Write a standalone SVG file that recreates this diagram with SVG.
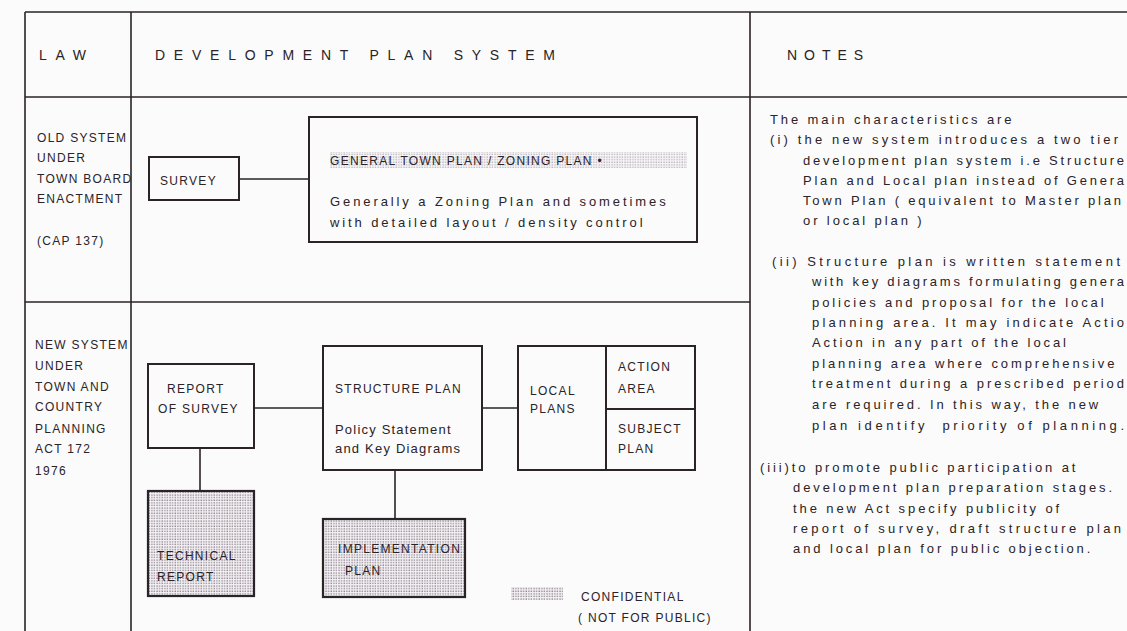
<svg xmlns="http://www.w3.org/2000/svg" width="1127" height="631" viewBox="0 0 1127 631">
<style>
.bg{fill:#fbfbfb}
.grid{stroke:#2a2328;stroke-width:1.6;fill:none}
.box{stroke:#2a2328;stroke-width:2;fill:none}
.dbox{stroke:#2a2328;stroke-width:2.2;fill:url(#dots)}
.con{stroke:#2a2328;stroke-width:1.6;fill:none}
text{font-family:"Liberation Sans",Arial,sans-serif;fill:#2a2328}
.hd{font-size:14px}
.lb{font-size:12px;letter-spacing:1.3px}
.tx{font-size:13px;letter-spacing:2.9px}
.fx{font-size:13px;letter-spacing:0}
.bx{font-size:13px;letter-spacing:1.2px}
</style>
<defs>
<pattern id="dots" width="2.6" height="2.6" patternUnits="userSpaceOnUse">
<rect width="2.6" height="2.6" fill="#f4f2f4"/>
<rect x="0.4" y="0.4" width="1.3" height="1.3" fill="#8a7e8c"/>
</pattern>
</defs>
<rect class="bg" x="0" y="0" width="1127" height="631"/>
<g id="table">
<line class="grid" x1="25" y1="12" x2="1127" y2="12"/>
<line class="grid" x1="25" y1="97" x2="1127" y2="97"/>
<line class="grid" x1="25" y1="302" x2="750" y2="302"/>
<line class="grid" x1="25" y1="12" x2="25" y2="631"/>
<line class="grid" x1="131" y1="12" x2="131" y2="631"/>
<line class="grid" x1="750" y1="12" x2="750" y2="631"/>
<text class="hd" x="39" y="60" textLength="47" lengthAdjust="spacing">LAW</text>
<text class="hd" x="155" y="60" textLength="400" lengthAdjust="spacing">DEVELOPMENT PLAN SYSTEM</text>
<text class="hd" x="787" y="60" textLength="76" lengthAdjust="spacing">NOTES</text>
</g>
<g id="law-old">
<text class="lb" x="37" y="142">OLD SYSTEM</text>
<text class="lb" x="37" y="162">UNDER</text>
<text class="lb" x="37" y="183">TOWN BOARD</text>
<text class="lb" x="37" y="203">ENACTMENT</text>
<text class="lb" x="37" y="245">(CAP 137)</text>
</g>
<g id="law-new">
<text class="lb" x="35" y="349">NEW SYSTEM</text>
<text class="lb" x="35" y="370">UNDER</text>
<text class="lb" x="35" y="391">TOWN AND</text>
<text class="lb" x="35" y="411">COUNTRY</text>
<text class="lb" x="35" y="433">PLANNING</text>
<text class="lb" x="35" y="453">ACT 172</text>
<text class="lb" x="35" y="475">1976</text>
</g>
<g id="connectors">
<line class="con" x1="239" y1="179" x2="309" y2="179"/>
<line class="con" x1="254" y1="408" x2="323" y2="408"/>
<line class="con" x1="482" y1="408" x2="518" y2="408"/>
<line class="con" x1="200" y1="448" x2="200" y2="491"/>
<line class="con" x1="395" y1="470" x2="395" y2="519"/>
</g>
<g id="survey">
<rect class="box" x="149" y="157" width="90" height="43"/>
<text class="lb" x="160" y="185" letter-spacing="1.5">SURVEY</text>
</g>
<g id="general-town-plan">
<rect class="box" x="309" y="117" width="388" height="125"/>
<rect x="330" y="152" width="357" height="16" fill="url(#dots)" opacity="0.6"/>
<text class="lb" x="330" y="165" letter-spacing="1.8">GENERAL TOWN PLAN / ZONING PLAN •</text>
<text class="tx" x="330" y="206" letter-spacing="2.5">Generally a Zoning Plan and sometimes</text>
<text class="tx" x="330" y="227" letter-spacing="2.5">with detailed layout / density control</text>
</g>
<g id="report-of-survey">
<rect class="box" x="148" y="364" width="106" height="84"/>
<text class="lb" x="167" y="393" letter-spacing="1.5">REPORT</text>
<text class="lb" x="158" y="413" letter-spacing="1.5">OF SURVEY</text>
</g>
<g id="structure-plan">
<rect class="box" x="323" y="346" width="159" height="124"/>
<text class="lb" x="335" y="393" letter-spacing="1.2">STRUCTURE PLAN</text>
<text class="bx" x="335" y="434">Policy Statement</text>
<text class="bx" x="335" y="453">and Key Diagrams</text>
</g>
<g id="local-plans">
<rect class="box" x="518" y="346" width="177" height="124"/>
<line class="box" x1="606" y1="346" x2="606" y2="470"/>
<line class="box" x1="606" y1="409" x2="695" y2="409"/>
<text class="lb" x="530" y="395" letter-spacing="1.5">LOCAL</text>
<text class="lb" x="530" y="413" letter-spacing="1.5">PLANS</text>
<text class="lb" x="618" y="371" letter-spacing="1.5">ACTION</text>
<text class="lb" x="618" y="393" letter-spacing="1.5">AREA</text>
<text class="lb" x="618" y="433" letter-spacing="1.5">SUBJECT</text>
<text class="lb" x="618" y="453" letter-spacing="1.5">PLAN</text>
</g>
<g id="technical-report">
<rect class="dbox" x="148" y="491" width="106" height="105"/>
<text class="lb" x="157" y="560" letter-spacing="1.5">TECHNICAL</text>
<text class="lb" x="157" y="581" letter-spacing="1.5">REPORT</text>
</g>
<g id="implementation-plan">
<rect class="dbox" x="323" y="519" width="142" height="78"/>
<text class="lb" x="338" y="553" letter-spacing="0.9">IMPLEMENTATION</text>
<text class="lb" x="345" y="575" letter-spacing="1.5">PLAN</text>
</g>
<g id="legend">
<rect x="511" y="587" width="52" height="13" fill="url(#dots)"/>
<text class="lb" x="581" y="601" letter-spacing="1.5">CONFIDENTIAL</text>
<text class="lb" x="578" y="622" letter-spacing="1.5">( NOT FOR PUBLIC)</text>
</g>
<g id="notes">
<text class="tx" x="770" y="124">The main characteristics are</text>
<text class="fx" x="770" y="144" textLength="348" lengthAdjust="spacing">(i) the new system introduces a two tier</text>
<text class="fx" x="803" y="165" textLength="321" lengthAdjust="spacing">development plan system i.e Structure</text>
<text class="fx" x="803" y="185" textLength="321" lengthAdjust="spacing">Plan and Local plan instead of Genera</text>
<text class="fx" x="803" y="205" textLength="318" lengthAdjust="spacing">Town Plan ( equivalent to Master plan</text>
<text class="tx" x="803" y="225">or local plan )</text>
<text class="fx" x="772" y="266" textLength="348" lengthAdjust="spacing">(ii) Structure plan is written statement</text>
<text class="fx" x="812" y="286" textLength="312" lengthAdjust="spacing">with key diagrams formulating genera</text>
<text class="tx" x="812" y="307">policies and proposal for the local</text>
<text class="fx" x="812" y="327" textLength="312" lengthAdjust="spacing">planning area. It may indicate Actio</text>
<text class="tx" x="812" y="347">Action in any part of the local</text>
<text class="tx" x="812" y="368">planning area where comprehensive</text>
<text class="fx" x="812" y="388" textLength="312" lengthAdjust="spacing">treatment during a prescribed period</text>
<text class="tx" x="812" y="409">are required. In this way, the new</text>
<text class="fx" x="812" y="430" textLength="312" lengthAdjust="spacing" xml:space="preserve">plan identify  priority of planning.</text>
<text class="tx" x="760" y="472">(iii)to promote public participation at</text>
<text class="tx" x="793" y="492">development plan preparation stages.</text>
<text class="tx" x="793" y="513">the new Act specify publicity of</text>
<text class="fx" x="793" y="533" textLength="328" lengthAdjust="spacing">report of survey, draft structure plan</text>
<text class="tx" x="793" y="553">and local plan for public objection.</text>
</g>
</svg>
